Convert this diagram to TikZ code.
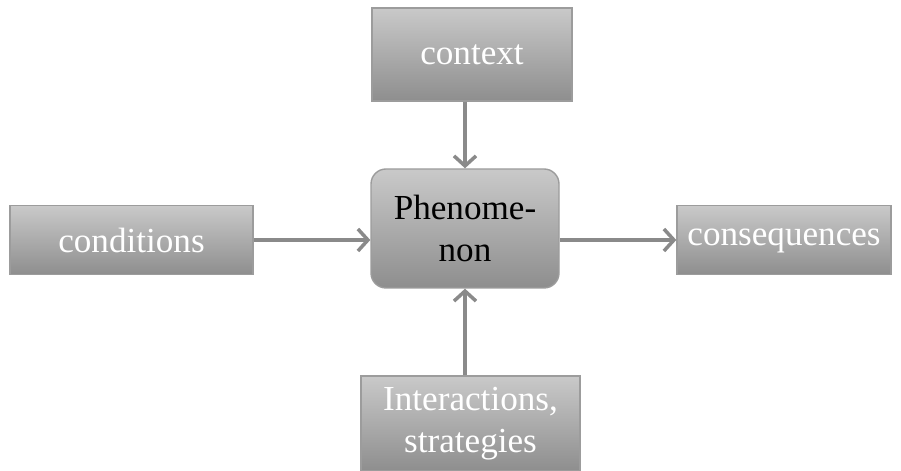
\documentclass[tikz,border=0pt]{standalone}
\usepackage{tikz}
\usepackage{xcolor}
\usepackage{fontspec}
\setmainfont{Liberation Serif}
\usetikzlibrary{shapes,arrows,arrows.meta,positioning,calc}

\definecolor{boxtop}{HTML}{C9C9C9}
\definecolor{boxbot}{HTML}{8E8E8E}
\definecolor{boxline}{HTML}{9C9C9C}
\definecolor{arrowgray}{HTML}{8A8A8A}

\begin{document}
\begin{tikzpicture}[
    factor/.style={rectangle, draw=boxline, line width=0.8pt, top color=boxtop, bottom color=boxbot, text=white, align=center, font=\fontsize{20}{24}\selectfont, inner sep=0pt},
    core/.style={factor, rounded corners=0.3cm, text=black},
    arrow/.style={->, >={Straight Barb[length=2mm, width=4.4mm]}, line width=2pt, draw=arrowgray}
]

\useasboundingbox (0,0) rectangle (18.02,9.42);

\node[factor, minimum width=4.0cm, minimum height=1.86cm] (context) at (9.44,8.33) {context};
\node[core, minimum width=3.76cm, minimum height=2.38cm] (phen) at (9.30,4.85) {Phenome-\\non};
\node[factor, minimum width=4.86cm, minimum height=1.38cm] (cond) at (2.63,4.62) {conditions};
\node[factor, minimum width=4.28cm, minimum height=1.38cm, text depth=0.1cm] (cons) at (15.68,4.62) {consequences};
\node[factor, minimum width=4.38cm, minimum height=1.9cm] (inter) at (9.41,0.95) {Interactions,\\strategies};

% arrows into and out of the phenomenon
\draw[arrow] (context.south -| phen.north) -- (phen.north);
\draw[arrow] (inter.north -| phen.south) -- (phen.south);
\draw[arrow] (cond.east) -- (cond.east -| phen.west);
\draw[arrow] (cond.east -| phen.east) -- (cons.west);

\end{tikzpicture}
\end{document}
